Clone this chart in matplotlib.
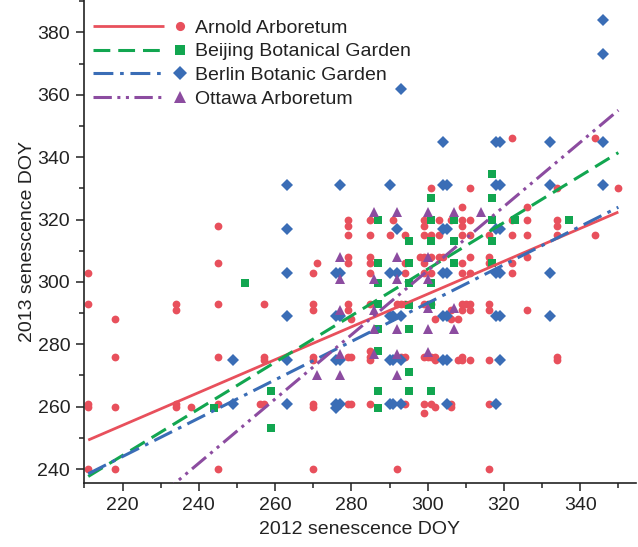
import matplotlib
matplotlib.use('Agg')
import matplotlib.pyplot as plt
from matplotlib.lines import Line2D
from matplotlib.legend_handler import HandlerBase
from matplotlib.ticker import MultipleLocator
import numpy as np

plt.rcParams['font.family'] = ['Liberation Sans', 'DejaVu Sans']

# ---------------- data ----------------
series_names = ['Arnold Arboretum', 'Beijing Botanical Garden',
                'Berlin Botanic Garden', 'Ottawa Arboretum']

arnold_x = [211, 211, 211, 211, 211,
            218, 218, 218, 218,
            234, 234, 234, 234, 238,
            245, 245, 245, 245, 245, 245,
            257, 257, 257, 256, 257,
            270, 270, 270, 270, 270, 270, 270, 270, 271,
            279, 279, 279, 279, 279, 279, 279, 280, 279, 280, 279, 280,
            285, 285, 285, 285, 285, 285, 285, 285, 285, 285,
            290, 291, 292, 293, 294, 293, 294, 294, 292, 294, 294, 294,
            298, 299, 299, 299, 299, 299, 299, 299, 299, 299, 299,
            301, 301, 301, 301, 300, 301, 300, 301, 302, 301, 302, 302, 302, 303, 303, 303,
            304, 306, 306, 306, 306, 306, 308,
            309, 309, 309, 309, 309, 309, 309, 309, 309, 309, 308, 310,
            311, 311, 311, 311, 311, 311, 311, 311,
            316, 316, 316, 316, 316, 316, 316, 316,
            322, 322, 322, 322, 322,
            326, 326, 326, 326, 326,
            334, 334, 334, 334, 334, 334,
            344, 344,
            350]
arnold_y = [303, 293, 261, 260, 240,
            288, 276, 260, 240,
            293, 291, 261, 260, 260,
            318, 306, 293, 276, 261, 240,
            293, 276, 275, 261, 261,
            303, 293, 291, 276, 275, 261, 260, 240, 306,
            320, 318, 315, 308, 306, 293, 291, 288, 276, 276, 261, 261,
            320, 315, 308, 306, 303, 293, 278, 276, 275, 261,
            315, 320, 293, 293, 293, 276, 276, 261, 240, 315, 306, 303,
            308, 320, 318, 315, 308, 306, 303, 293, 276, 261, 258,
            330, 315, 308, 303, 293, 293, 276, 276, 276, 261, 288, 275, 260, 308, 320, 315,
            308, 320, 291, 288, 261, 260, 288,
            324, 320, 318, 315, 306, 303, 293, 291, 276, 275, 275, 293,
            330, 320, 315, 308, 303, 293, 291, 275,
            315, 308, 306, 293, 291, 275, 261, 240,
            346, 320, 315, 306, 303,
            324, 320, 315, 308, 291,
            330, 320, 318, 315, 276, 275,
            346, 315,
            330]

beijing_x = [244, 252, 259, 259,
             287, 287, 287, 287, 287, 287, 287, 287,
             295, 295, 295, 295, 295, 295, 295,
             301, 301, 301, 301, 301, 301,
             307, 307, 307,
             317, 317, 317, 317, 317,
             323, 337]
beijing_y = [259.5, 299.5, 265, 253,
             320, 306, 299.5, 293, 285, 278, 265, 259.5,
             313, 306, 299.5, 292.5, 285, 271, 265,
             327, 320, 313, 299.5, 292.5, 265,
             320, 313, 306,
             334.5, 327, 320, 313, 306,
             320, 320]

berlin_x = [249, 249,
            263, 263, 263, 263, 263, 263,
            277, 276, 277, 276, 277, 276, 277, 276, 277, 276,
            290, 292, 290, 292, 290, 291, 293, 290, 291, 293, 290, 291, 293, 293,
            304, 304, 305, 304, 305, 304, 305, 304, 305, 304, 305, 305,
            318, 319, 318, 319, 318, 319, 318, 319, 318, 319, 319, 318,
            332, 332, 332, 332,
            346, 346, 346, 346]
berlin_y = [275, 261,
            331, 317, 303, 289, 275, 261,
            331, 303, 303, 289, 289, 275, 275, 261, 261, 259.5,
            331, 317, 303, 303, 289, 289, 289, 275, 275, 275, 261, 261, 261, 362,
            345, 331, 331, 317, 317, 303, 303, 289, 289, 275, 275, 261,
            345, 345, 331, 331, 317, 317, 303, 303, 289, 289, 275, 261,
            345, 331, 303, 289,
            384, 373, 345, 331]

ottawa_x = [271,
            277, 277, 277, 277, 277,
            286, 286, 286, 286, 286,
            292, 292, 292, 292, 292, 292,
            300, 300, 300, 300, 300, 300,
            307, 307, 307,
            314]
ottawa_y = [270,
            308, 301, 291, 277, 270,
            322.5, 301, 291, 285, 277,
            322.5, 308, 301, 285, 277, 270,
            322.5, 308, 301, 291.5, 285, 277.5,
            322.5, 291.5, 285,
            322.5]

# regression lines: slope, intercept
fit_slope = [0.526, 0.747, 0.615, 1.029]
fit_intercept = [138.3, 80.0, 108.7, -5.1]

x_ticks = [220, 240, 260, 280, 300, 320, 340]
y_ticks = [240, 260, 280, 300, 320, 340, 360, 380]

# ---------------- style ----------------
colors = ['#E8505C', '#12A650', '#3A6DB6', '#8C4CA0']
markers = ['o', 's', 'D', '^']
msizes = [5.6, 5.9, 5.7, 7.3]
lstyles = ['-', (0, (5.5, 2.6)), (0, (6.5, 2.2, 1.2, 2.2)),
           (0, (6.0, 1.8, 1.0, 1.8, 1.0, 1.8))]
lwidths = [2.0, 2.2, 2.2, 2.2]
FS = 14

fig = plt.figure(figsize=(6.38, 5.47), dpi=100)
ax = fig.add_axes([0.1317, 0.1175, 0.865, 0.8825])

xs = [arnold_x, beijing_x, berlin_x, ottawa_x]
ys = [arnold_y, beijing_y, berlin_y, ottawa_y]

for i in range(4):
    ax.plot(xs[i], ys[i], linestyle='none', marker=markers[i], ms=msizes[i],
            mfc=colors[i], mec=colors[i], mew=0, zorder=2 + i * 0.1)

all_x = np.concatenate([np.asarray(v, float) for v in xs])
fx = np.array([all_x.min(), all_x.max()])
for i in range(4):
    ax.plot(fx, fit_slope[i] * fx + fit_intercept[i], color=colors[i],
            linestyle=lstyles[i], lw=lwidths[i], zorder=4, solid_capstyle='butt')

ax.set_xlim(209.9, 354.6)
ax.set_ylim(235.6, 390.4)
ax.set_xticks(x_ticks)
ax.set_yticks(y_ticks)
ax.xaxis.set_minor_locator(MultipleLocator(10))
ax.yaxis.set_minor_locator(MultipleLocator(10))
ax.tick_params(which='major', direction='out', length=6, width=1.1,
               labelsize=FS, pad=4, colors='#222222')
ax.tick_params(which='minor', direction='out', length=3.5, width=1.1,
               colors='#222222')
for s in ['top', 'right']:
    ax.spines[s].set_visible(False)
for s in ['left', 'bottom']:
    ax.spines[s].set_linewidth(1.2)
    ax.spines[s].set_color('#222222')

ax.set_xlabel('2012 senescence DOY', fontsize=FS, color='#222222', labelpad=5)
ax.set_ylabel('2013 senescence DOY', fontsize=FS, color='#222222', labelpad=1)


class LineMarkerHandler(HandlerBase):
    def create_artists(self, legend, orig_handle, xdescent, ydescent,
                       width, height, fontsize, trans):
        color, ls, lw, mk, ms = orig_handle
        y = height / 2 - ydescent
        x0 = -xdescent
        ln = Line2D([x0, x0 + 0.765 * width], [y, y], color=color,
                    linestyle=ls, lw=lw, solid_capstyle='butt')
        mkr = Line2D([x0 + 0.935 * width], [y], linestyle='none', marker=mk,
                     ms=ms, mfc=color, mec=color, mew=0)
        ln.set_transform(trans)
        mkr.set_transform(trans)
        return [ln, mkr]


class LegendEntry(tuple):
    pass


handles = [LegendEntry((colors[i], lstyles[i], lwidths[i], markers[i], msizes[i] + 1))
           for i in range(4)]
leg = ax.legend(handles, series_names, loc='upper left', frameon=False,
                fontsize=FS, handlelength=4.8, handletextpad=0.46,
                labelspacing=0.31, borderaxespad=0.26, borderpad=0.2,
                bbox_to_anchor=(0.0, 0.979),
                handler_map={LegendEntry: LineMarkerHandler()})
for t in leg.get_texts():
    t.set_color('#222222')

fig.savefig('out.png', dpi=100)
